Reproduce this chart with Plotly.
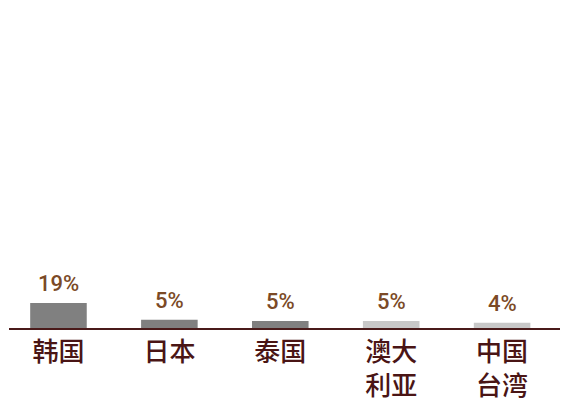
import plotly.graph_objects as go

categories = ["韩国", "日本", "泰国", "澳大<br>利亚", "中国<br>台湾"]
values = [19, 6.3, 5.4, 5.4, 3.9]
labels = ["19%", "5%", "5%", "5%", "4%"]
colors = ["#808080", "#808080", "#808080", "#c8c8c8", "#c8c8c8"]

W, H = 564, 405
ml, mr, mt, mb = 9, 4, 28, 77
plot_h = H - mt - mb
px_per_unit = 25 / 19
ymax = plot_h / px_per_unit

fig = go.Figure(go.Bar(
    x=categories, y=values, marker=dict(color=colors, line=dict(width=0)),
    width=0.51, cliponaxis=False, hoverinfo="skip",
))
for c, v, t in zip(categories, values, labels):
    fig.add_annotation(x=c, y=v, text=t, showarrow=False, yanchor="bottom", yshift=5,
                       font=dict(family="Roboto", size=22, color="#7b4a26", weight=500))
fig.update_layout(
    width=W, height=H, margin=dict(l=ml, r=mr, t=mt, b=mb, autoexpand=False),
    plot_bgcolor="white", paper_bgcolor="white", showlegend=False,
    xaxis=dict(range=[-0.446, 4.522], showline=True, linecolor="#4a1a1a", linewidth=2,
               automargin=False,
               tickfont=dict(family="Noto Sans CJK SC Medium, Noto Sans CJK SC", size=26,
                             color="#4a1515", weight=500),
               ticks="", showgrid=False, zeroline=False),
    yaxis=dict(range=[0, ymax], visible=False, showgrid=False, zeroline=False, automargin=False),
)
fig.write_html("out.html", config={"displayModeBar": False},
               post_script="document.body.style.margin='0';")
